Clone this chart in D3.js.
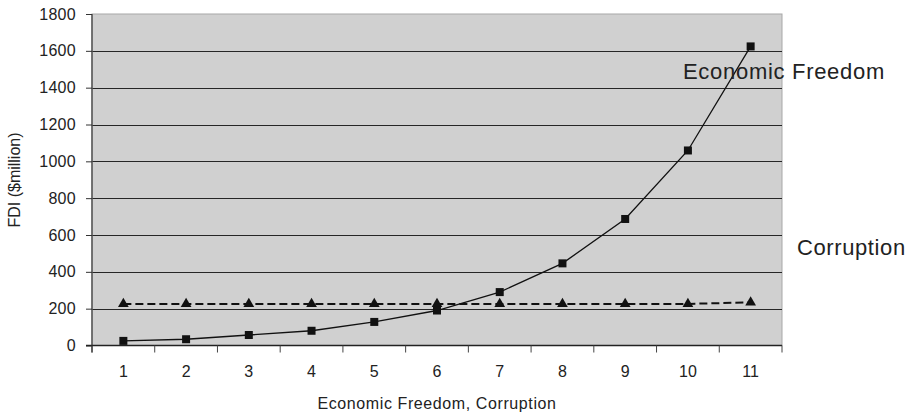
<!DOCTYPE html>
<html>
<head>
<meta charset="utf-8">
<script src="https://cdn.jsdelivr.net/npm/d3@7"></script>
<style>
  html, body { margin: 0; padding: 0; background: #fff; }
  svg { display: block; font-family: "Liberation Sans", Arial, sans-serif; }
</style>
</head>
<body>
<svg id="chart" width="912" height="413"></svg>
<script>
// Categories along the x axis
const categories = ["1", "2", "3", "4", "5", "6", "7", "8", "9", "10", "11"];
// FDI ($million) for each series
const economicFreedom = [25, 34, 57, 80, 128, 190, 290, 446, 687, 1059, 1624];
const corruption = [226, 226, 226, 226, 226, 226, 226, 226, 226, 226, 234];
// Y axis tick values
const yTicks = [0, 200, 400, 600, 800, 1000, 1200, 1400, 1600, 1800];

const svg = d3.select("#chart");
const plotLeft = 92, plotRight = 782, plotTop = 14, plotBottom = 345.5;

const x = d3.scaleBand().domain(categories).range([plotLeft, plotRight]).padding(0);
const cx = d => x(d) + x.bandwidth() / 2;
const y = d3.scaleLinear().domain([0, 1800]).range([plotBottom, plotTop]);

// Plot background
svg.append("rect")
  .attr("x", plotLeft).attr("y", plotTop)
  .attr("width", plotRight - plotLeft).attr("height", plotBottom - plotTop)
  .attr("fill", "#d0d0d0")
  .attr("stroke", "#a8a8a8").attr("stroke-width", 1);

// Horizontal gridlines
svg.append("g").selectAll("line")
  .data(yTicks.filter(v => v > 0 && v < 1800))
  .join("line")
  .attr("x1", plotLeft).attr("x2", plotRight)
  .attr("y1", d => Math.round(y(d)) + 0.5).attr("y2", d => Math.round(y(d)) + 0.5)
  .attr("stroke", "#262626").attr("stroke-width", 1.1);

// Y axis
const yAxis = svg.append("g")
  .attr("transform", `translate(${plotLeft},0)`)
  .call(d3.axisLeft(y).tickValues(yTicks).tickSize(6).tickPadding(10).tickFormat(d3.format("d")));
yAxis.select(".domain").attr("stroke", "#555").attr("stroke-width", 1.5)
  .attr("d", `M0,${plotTop}V${plotBottom + 7}`);
yAxis.selectAll(".tick line").attr("stroke", "#333");
yAxis.selectAll(".tick text")
  .attr("fill", "#222").attr("font-size", "16px").attr("letter-spacing", "0.3px")
  .attr("font-family", "Liberation Sans, Arial, sans-serif");

// X axis: baseline, boundary ticks and category labels
const xAxis = svg.append("g");
xAxis.append("line")
  .attr("x1", plotLeft - 6).attr("x2", plotRight)
  .attr("y1", plotBottom).attr("y2", plotBottom)
  .attr("stroke", "#222").attr("stroke-width", 1.5);
const bounds = categories.map(c => x(c)).concat([plotRight]);
xAxis.selectAll("line.tk").data(bounds).join("line")
  .attr("class", "tk")
  .attr("x1", d => d).attr("x2", d => d)
  .attr("y1", plotBottom).attr("y2", plotBottom + 7)
  .attr("stroke", "#444").attr("stroke-width", 1);
xAxis.selectAll("text").data(categories).join("text")
  .attr("x", d => cx(d)).attr("y", 377)
  .attr("text-anchor", "middle")
  .attr("font-size", "16px").attr("fill", "#222")
  .text(d => d);

// Axis titles
svg.append("text")
  .attr("x", 437).attr("y", 409)
  .attr("text-anchor", "middle")
  .attr("font-size", "16px").attr("letter-spacing", "0.6px").attr("fill", "#222")
  .text("Economic Freedom, Corruption");
svg.append("text")
  .attr("transform", "translate(20,180) rotate(-90)")
  .attr("text-anchor", "middle")
  .attr("font-size", "16px").attr("fill", "#222")
  .text("FDI ($million)");

// Corruption series: dashed line with triangles
svg.append("path")
  .datum(corruption)
  .attr("fill", "none").attr("stroke", "#111").attr("stroke-width", 2)
  .attr("stroke-dasharray", "8,4")
  .attr("d", d3.line().x((d, i) => cx(categories[i])).y(d => y(d)));
svg.append("g").selectAll("path")
  .data(corruption)
  .join("path")
  .attr("transform", (d, i) => `translate(${cx(categories[i])},${y(d)})`)
  .attr("d", d3.symbol(d3.symbolTriangle, 50))
  .attr("fill", "#111");

// Economic Freedom series: solid line with squares
svg.append("path")
  .datum(economicFreedom)
  .attr("fill", "none").attr("stroke", "#111").attr("stroke-width", 1.3)
  .attr("d", d3.line().x((d, i) => cx(categories[i])).y(d => y(d)));
svg.append("g").selectAll("rect")
  .data(economicFreedom)
  .join("rect")
  .attr("x", (d, i) => cx(categories[i]) - 4).attr("y", d => y(d) - 4)
  .attr("width", 8).attr("height", 8)
  .attr("fill", "#111");

// Series labels
svg.append("text")
  .attr("x", 683).attr("y", 79)
  .attr("font-size", "22px").attr("letter-spacing", "0.7px").attr("fill", "#222")
  .text("Economic Freedom");
svg.append("text")
  .attr("x", 797).attr("y", 255)
  .attr("font-size", "22px").attr("letter-spacing", "0.6px").attr("fill", "#222")
  .text("Corruption");
</script>
</body>
</html>
